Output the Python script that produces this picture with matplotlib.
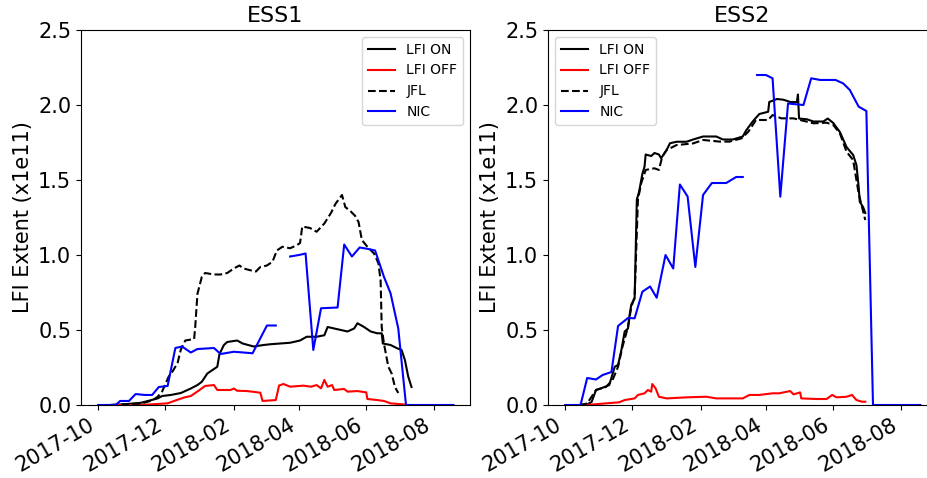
import numpy as np
import matplotlib
matplotlib.use("Agg")
import matplotlib.pyplot as plt
import matplotlib.dates as mdates

# day offsets from 2017-10-01, values in units of 1e11
t0 = np.datetime64('2017-10-01')

# ---------------- ESS1 ----------------
ess1_on_days = [11, 24, 39, 54, 58, 66, 75, 84, 90, 94, 99, 103, 108, 110, 114, 117, 126, 131,
                141, 150, 156, 165, 174, 183, 189, 198, 205, 208, 214, 220, 226, 232, 235, 241,
                247, 253, 257, 258, 265, 271, 275, 278, 281, 284]
ess1_on = [0.0, 0.005, 0.015, 0.044, 0.06, 0.067, 0.08, 0.11, 0.133, 0.155, 0.21, 0.23, 0.255, 0.34,
           0.40, 0.42, 0.43, 0.41, 0.39, 0.40, 0.405, 0.41, 0.415, 0.43, 0.455, 0.455, 0.465, 0.52,
           0.51, 0.50, 0.49, 0.51, 0.545, 0.52, 0.49, 0.478, 0.478, 0.41, 0.40, 0.378, 0.367, 0.30,
           0.19, 0.12]

ess1_off_days = [17, 39, 54, 63, 70, 78, 84, 90, 97, 105, 108, 120, 123, 126, 135, 147, 149, 161,
                 164, 168, 174, 186, 193, 198, 202, 205, 208, 212, 214, 223, 226, 235, 243, 244,
                 253, 259, 265, 277]
ess1_off = [0.0, 0.0, 0.007, 0.011, 0.03, 0.05, 0.06, 0.09, 0.127, 0.133, 0.10, 0.10, 0.11, 0.095,
            0.093, 0.082, 0.027, 0.033, 0.13, 0.14, 0.122, 0.129, 0.122, 0.133, 0.111, 0.167, 0.122,
            0.133, 0.10, 0.107, 0.089, 0.093, 0.084, 0.04, 0.033, 0.027, 0.011, 0.004]

ess1_jfl_days = [11, 24, 39, 49, 54, 58, 64, 68, 72, 75, 79, 87, 88, 90, 94, 97, 105, 111, 117, 123,
                 128, 132, 137, 143, 147, 153, 158, 162, 167, 174, 180, 183, 185, 192, 198, 205,
                 211, 215, 220, 221, 224, 229, 233, 236, 239, 244, 250, 254, 256, 257, 259, 263,
                 266, 269, 272]
ess1_jfl = [0.0, 0.004, 0.01, 0.03, 0.055, 0.09, 0.19, 0.23, 0.28, 0.37, 0.43, 0.44, 0.52, 0.74,
            0.855, 0.88, 0.87, 0.87, 0.88, 0.91, 0.93, 0.91, 0.90, 0.89, 0.92, 0.93, 0.955, 1.03,
            1.055, 1.045, 1.065, 1.08, 1.19, 1.18, 1.155, 1.21, 1.28, 1.34, 1.39, 1.40, 1.32, 1.29,
            1.26, 1.22, 1.10, 1.055, 1.01, 0.945, 0.83, 0.52, 0.41, 0.255, 0.21, 0.12, 0.08]

# NaN marks the gap in the NIC record
ess1_nic_days = [0, 16, 20, 28, 34, 42, 49, 55, 63, 70, 76, 84, 90, 105, 111, 123, 140, 153, 161,
                 167, 174, 182, 188, 195, 202, 217, 223, 230, 237, 245, 251, 259, 265, 272, 279, 322]
ess1_nic = [0.0, 0.0, 0.027, 0.027, 0.073, 0.067, 0.067, 0.12, 0.127, 0.38, 0.39, 0.35, 0.373, 0.38,
            0.34, 0.355, 0.345, 0.53, 0.53, np.nan, 0.99, 1.0, 1.01, 0.367, 0.645, 0.65, 1.07, 0.99,
            1.05, 1.04, 1.03, 0.855, 0.745, 0.51, 0.0, 0.0]

# ---------------- ESS2 ----------------
ess2_on_days = [13, 19, 24, 28, 34, 40, 45, 48, 51, 54, 57, 58, 60, 63, 65, 67, 70, 72, 73, 78, 81,
                85, 87, 92, 95, 101, 110, 116, 125, 137, 143, 152, 161, 164, 170, 176, 184, 185,
                192, 198, 204, 210, 211, 212, 219, 225, 234, 238, 243, 249, 255, 261, 264, 266,
                267, 270, 272]
ess2_on = [0.0, 0.0, 0.02, 0.10, 0.115, 0.133, 0.255, 0.267, 0.367, 0.49, 0.51, 0.58, 0.67, 0.71,
           1.37, 1.42, 1.54, 1.59, 1.67, 1.66, 1.68, 1.67, 1.645, 1.70, 1.745, 1.755, 1.755, 1.77,
           1.79, 1.79, 1.77, 1.77, 1.79, 1.83, 1.89, 1.94, 1.955, 2.02, 2.04, 2.035, 2.02, 2.02,
           2.07, 1.91, 1.905, 1.89, 1.89, 1.91, 1.88, 1.82, 1.72, 1.667, 1.60, 1.455, 1.355,
           1.32, 1.28]

ess2_off_days = [19, 49, 54, 63, 66, 72, 75, 78, 79, 82, 85, 92, 110, 128, 137, 152, 161, 167, 176,
                 188, 194, 204, 207, 213, 214, 228, 237, 242, 246, 255, 260, 264, 269, 272]
ess2_off = [0.0, 0.018, 0.033, 0.044, 0.067, 0.078, 0.10, 0.089, 0.14, 0.111, 0.055, 0.044, 0.051,
            0.055, 0.044, 0.044, 0.044, 0.067, 0.067, 0.078, 0.078, 0.093, 0.071, 0.084, 0.044,
            0.04, 0.04, 0.067, 0.051, 0.055, 0.067, 0.033, 0.022, 0.022]

ess2_jfl_days = [13, 20, 28, 37, 43, 48, 52, 57, 60, 63, 66, 69, 72, 73, 81, 85, 88, 92, 101, 116,
                 125, 140, 149, 160, 166, 173, 184, 188, 196, 207, 213, 225, 237, 243, 249, 255,
                 261, 266, 269, 272]
ess2_jfl = [0.0, 0.01, 0.10, 0.12, 0.167, 0.255, 0.389, 0.52, 0.655, 0.72, 1.37, 1.48, 1.545,
            1.567, 1.578, 1.567, 1.655, 1.70, 1.733, 1.744, 1.767, 1.756, 1.756, 1.778, 1.822, 1.90,
            1.90, 1.933, 1.911, 1.911, 1.90, 1.878, 1.882, 1.867, 1.811, 1.689, 1.633, 1.411,
            1.322, 1.233]

ess2_nic_days = [0, 14, 20, 28, 34, 42, 48, 57, 63, 70, 77, 83, 91, 98, 104, 111, 118, 125, 133,
                 146, 155, 161, 167, 174, 182, 188, 195, 202, 216, 223, 231, 245, 252, 258, 266,
                 273, 279, 322]
ess2_nic = [0.0, 0.0, 0.18, 0.17, 0.20, 0.22, 0.527, 0.58, 0.578, 0.755, 0.79, 0.715, 1.0, 0.91,
            1.47, 1.39, 0.92, 1.40, 1.48, 1.48, 1.52, 1.52, np.nan, 2.2, 2.2, 2.178, 1.389, 2.01,
            2.0, 2.178, 2.167, 2.167, 2.144, 2.10, 1.989, 1.96, 0.0, 0.0]

titles = ['ESS1', 'ESS2']
panels = [
    (ess1_on_days, ess1_on, ess1_off_days, ess1_off, ess1_jfl_days, ess1_jfl, ess1_nic_days, ess1_nic),
    (ess2_on_days, ess2_on, ess2_off_days, ess2_off, ess2_jfl_days, ess2_jfl, ess2_nic_days, ess2_nic),
]


def to_dates(days):
    return t0 + np.array(days, dtype='timedelta64[D]')


fig = plt.figure(figsize=(9.28, 4.78), dpi=100)
ax1 = fig.add_axes([81 / 928, 73 / 478, 389 / 928, 375 / 478])
ax2 = fig.add_axes([548 / 928, 73 / 478, 389 / 928, 375 / 478])

for ax, title, p, loc in zip([ax1, ax2], titles, panels, ['upper right', 'upper left']):
    on_d, on, off_d, off, jfl_d, jfl, nic_d, nic = p
    ax.plot(to_dates(on_d), on, color='black', lw=1.5, label='LFI ON')
    ax.plot(to_dates(off_d), off, color='red', lw=1.5, label='LFI OFF')
    ax.plot(to_dates(jfl_d), jfl, color='black', ls='--', lw=1.5, label='JFL')
    ax.plot(to_dates(nic_d), nic, color='blue', lw=1.5, label='NIC')
    ax.set_ylim(0, 2.5)
    ax.set_yticks([0, 0.5, 1.0, 1.5, 2.0, 2.5])
    ax.set_xlim(np.datetime64('2017-09-15T12:00'), np.datetime64('2018-09-03'))
    ax.xaxis.set_major_locator(mdates.MonthLocator(bymonth=[2, 4, 6, 8, 10, 12]))
    ax.xaxis.set_major_formatter(mdates.DateFormatter('%Y-%m'))
    ax.tick_params(labelsize=15)
    for lab in ax.get_xticklabels():
        lab.set_rotation(30)
        lab.set_ha('right')
    ax.set_ylabel('LFI Extent (x1e11)', fontsize=15)
    ax.set_title(title, fontsize=16)
    ax.legend(loc=loc, fontsize=10)

fig.savefig('out.png', dpi=100)
